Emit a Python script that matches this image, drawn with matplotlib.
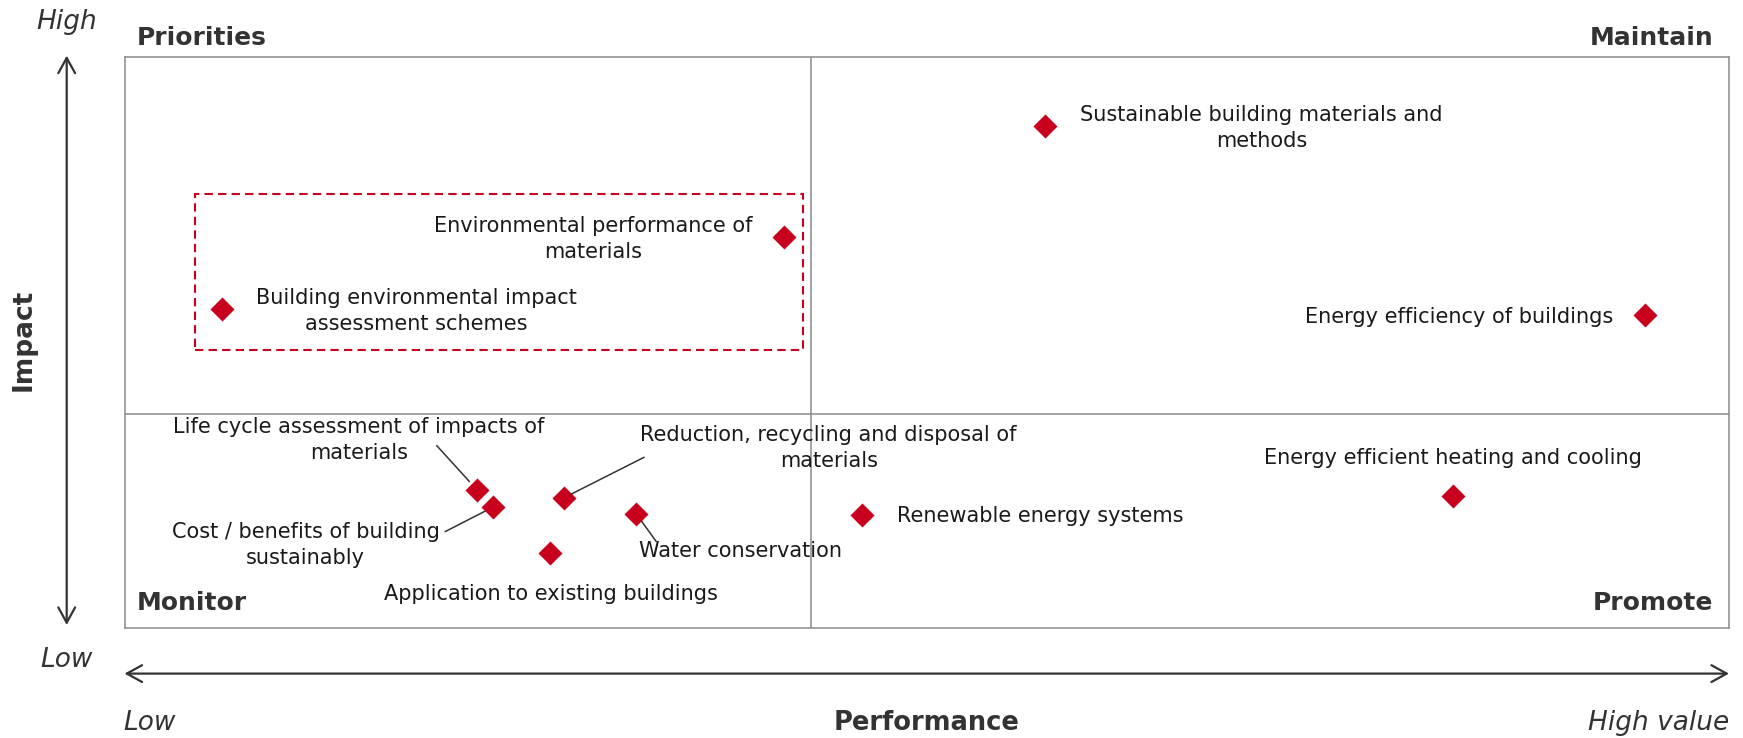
import numpy as np
import matplotlib
matplotlib.use("Agg")
import matplotlib.pyplot as plt
from matplotlib.patches import Rectangle, FancyArrowPatch

# --- data -------------------------------------------------------------
topics = [
    "Sustainable building materials and\nmethods",
    "Environmental performance of\nmaterials",
    "Building environmental impact\nassessment schemes",
    "Energy efficiency of buildings",
    "Energy efficient heating and cooling",
    "Renewable energy systems",
    "Life cycle assessment of impacts of\nmaterials",
    "Cost / benefits of building\nsustainably",
    "Reduction, recycling and disposal of\nmaterials",
    "Water conservation",
    "Application to existing buildings",
]
performance = [57.4, 41.1, 6.1, 94.8, 82.8, 46.0, 22.0, 23.0, 27.4, 31.9, 26.5]
impact = [87.9, 68.5, 55.8, 54.7, 23.1, 19.8, 24.1, 21.2, 22.8, 20.0, 13.2]

quadrants = ["Priorities", "Maintain", "Monitor", "Promote"]

# --- layout -----------------------------------------------------------
# label position (data coords), leader relpos (or None)
label_pos = [
    (70.9, 87.6, None),
    (29.2, 68.1, None),
    (18.2, 55.5, None),
    (83.2, 54.5, None),
    (82.8, 29.8, None),
    (57.1, 19.6, None),
    (14.6, 32.9, (0.71, 0.38)),
    (11.3, 14.6, (1.02, 0.78)),
    (43.9, 31.5, (0.01, 0.3)),
    (38.4, 13.4, (0.085, 1.0)),
    (26.6, 6.0, None),
]
leader_shrink = {6: 8.5, 7: 6.5, 8: 5.5, 9: 6.5}
x_split, y_split = 42.8, 37.4
focus_box = (4.4, 48.6, 42.3 - 4.4, 75.9 - 48.6)

red = "#c8001e"
dark = "#333333"
W, H = 1743, 738
lab_fs = 15

fig = plt.figure(figsize=(W / 100, H / 100), dpi=100)
ax = fig.add_axes([124.5 / W, 1 - 628 / H, 1604 / W, 571.3 / H])
ax.set_xlim(0, 100)
ax.set_ylim(0, 100)
ax.set_xticks([])
ax.set_yticks([])
for s in ax.spines.values():
    s.set_color("#8a8a8a")
    s.set_linewidth(1.1)
ax.axvline(x_split, color="#8a8a8a", lw=1.1)
ax.axhline(y_split, color="#8a8a8a", lw=1.1)

ax.add_patch(Rectangle(focus_box[:2], focus_box[2], focus_box[3], fill=False,
                       edgecolor=red, lw=1.5, ls=(0, (4, 2.5))))

ax.scatter(performance, impact, marker="D", s=150, color=red, zorder=3,
           linewidths=0)

for i, (name, (lx, ly, rel)) in enumerate(zip(topics, label_pos)):
    if rel is None:
        ax.text(lx, ly, name, ha="center", va="center", multialignment="center",
                fontsize=lab_fs, color="#1a1a1a", linespacing=1.38)
    else:
        ax.annotate(name, xy=(performance[i], impact[i]), xytext=(lx, ly),
                    ha="center", va="center", multialignment="center",
                    fontsize=lab_fs, color="#1a1a1a", linespacing=1.38,
                    arrowprops=dict(arrowstyle="-", color="#333333", lw=1.1,
                                    patchA=None, relpos=rel, shrinkA=0,
                                    shrinkB=leader_shrink[i]))


def ftext(x, y, s, **kw):
    fig.text(x / W, 1 - y / H, s, color=dark, **kw)


# quadrant names
ftext(136.7, 37.8, quadrants[0], ha="left", va="center", fontsize=18,
      fontweight="bold")
ftext(1713, 37.8, quadrants[1], ha="right", va="center", fontsize=18,
      fontweight="bold")
ftext(136.7, 602.5, quadrants[2], ha="left", va="center", fontsize=18,
      fontweight="bold")
ftext(1713, 602.5, quadrants[3], ha="right", va="center", fontsize=18,
      fontweight="bold")

# axes arrows (double headed)
arrow = dict(arrowstyle="<->,head_length=1.0,head_width=0.55", color=dark,
             lw=1.6, mutation_scale=11, shrinkA=0, shrinkB=0,
             transform=fig.transFigure)
fig.patches.append(FancyArrowPatch((66.7 / W, 1 - 625 / H),
                                   (66.7 / W, 1 - 55.6 / H), **arrow))
fig.patches.append(FancyArrowPatch((124.5 / W, 1 - 673.6 / H),
                                   (1729 / W, 1 - 673.6 / H), **arrow))

# axis texts
ftext(66.7, 22.2, "High", ha="center", va="center", fontsize=19,
      style="italic")
ftext(66.7, 660, "Low", ha="center", va="center", fontsize=19,
      style="italic")
ftext(123.5, 722.5, "Low", ha="left", va="center", fontsize=19,
      style="italic")
ftext(1729.6, 722.5, "High value", ha="right", va="center", fontsize=19,
      style="italic")
ftext(927, 722.5, "Performance", ha="center", va="center", fontsize=18.5,
      fontweight="bold")
ftext(23.3, 340, "Impact", ha="center", va="center", fontsize=19,
      fontweight="bold", rotation=90)

fig.savefig("out.png", dpi=100)
